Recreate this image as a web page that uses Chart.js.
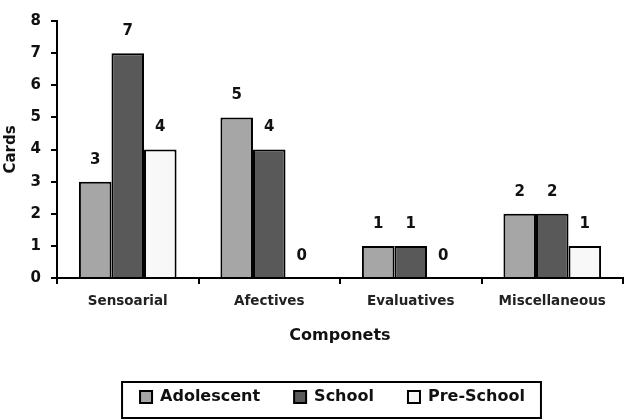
<!DOCTYPE html>
<html>
<head>
<meta charset="utf-8">
<script src="https://cdn.jsdelivr.net/npm/chart.js@4/dist/chart.umd.min.js"></script>
<style>
  html, body { margin: 0; padding: 0; background: #fff; }
  #wrap { width: 637px; height: 420px; position: relative; }
</style>
</head>
<body>
<div id="wrap"><canvas id="chart"></canvas></div>
<script>
// bar chart: cards per component, three age groups
const categories = ['Sensoarial', 'Afectives', 'Evaluatives', 'Miscellaneous'];
const adolescent = [3, 5, 1, 2];
const school = [7, 4, 1, 2];
const preSchool = [4, 0, 0, 1];
const yTicks = [0, 1, 2, 3, 4, 5, 6, 7, 8];

const FONT = '"DejaVu Sans", Verdana, sans-serif';

// numbers above the bars
const valueLabels = {
  id: 'valueLabels',
  afterDatasetsDraw(chart) {
    const ctx = chart.ctx;
    ctx.save();
    ctx.font = `bold 15px ${FONT}`;
    ctx.fillStyle = '#111';
    ctx.textAlign = 'center';
    ctx.textBaseline = 'middle';
    chart.data.datasets.forEach((ds, i) => {
      chart.getDatasetMeta(i).data.forEach((bar, j) => {
        ctx.fillText(String(ds.data[j]), bar.x, bar.y - 22);
      });
    });
    ctx.restore();
  }
};

// legend sits a bit right of centre in the original, and has a frame
const legendFrame = {
  id: 'legendFrame',
  afterLayout(chart) {
    chart.legend.left += 21;
    chart.legend.right += 21;
  },
  afterDraw(chart) {
    const boxes = chart.legend.legendHitBoxes;
    if (!boxes || !boxes.length) return;
    const left = Math.min(...boxes.map(b => b.left)) - 18;
    const right = Math.max(...boxes.map(b => b.left + b.width)) + 16;
    const top = boxes[0].top - 7;
    const bottom = boxes[0].top + 29;
    const ctx = chart.ctx;
    ctx.save();
    ctx.strokeStyle = '#000';
    ctx.lineWidth = 2;
    ctx.strokeRect(left, top, right - left, bottom - top);
    ctx.restore();
  }
};

const ds = (label, data, color) => ({
  label, data,
  backgroundColor: color,
  borderColor: '#000',
  borderWidth: 2,
  borderSkipped: 'bottom',
  categoryPercentage: 0.69,
  barPercentage: 1.0
});

new Chart(document.getElementById('chart'), {
  type: 'bar',
  data: {
    labels: categories,
    datasets: [
      ds('Adolescent', adolescent, '#a6a6a6'),
      ds('School', school, '#595959'),
      ds('Pre-School', preSchool, '#f8f8f8')
    ]
  },
  options: {
    responsive: true,
    maintainAspectRatio: false,
    animation: false,
    layout: { padding: { top: 21, right: 14, left: 0, bottom: 5 } },
    plugins: {
      tooltip: { enabled: false },
      legend: {
        position: 'bottom',
        labels: {
          font: { family: FONT, size: 16, weight: 'bold' },
          color: '#111',
          boxWidth: 12,
          boxHeight: 12,
          padding: 34,
          generateLabels(chart) {
            return chart.data.datasets.map((d, i) => ({
              text: d.label,
              fillStyle: d.backgroundColor,
              strokeStyle: '#000',
              lineWidth: 2,
              datasetIndex: i,
              fontColor: '#111'
            }));
          }
        }
      }
    },
    scales: {
      x: {
        offset: true,
        afterFit(axis) { axis.height = 77; },
        grid: { display: true, drawOnChartArea: false, offset: true, tickLength: 6, color: '#000', lineWidth: 2 },
        border: { color: '#000', width: 2 },
        ticks: { font: { family: FONT, size: 13.5, weight: 'bold' }, color: '#222', padding: 9 },
        title: { display: true, text: 'Componets', font: { family: FONT, size: 16, weight: 'bold' }, color: '#111', padding: { top: 0, bottom: 10 } }
      },
      y: {
        min: 0, max: 8,
        afterBuildTicks(axis) { axis.ticks = yTicks.map(v => ({ value: v })); },
        afterFit(axis) { axis.width = 57; },
        grid: { display: true, drawOnChartArea: false, tickLength: 6, color: '#000', lineWidth: 2 },
        border: { color: '#000', width: 2 },
        ticks: { font: { family: FONT, size: 15, weight: 'bold' }, color: '#111', padding: 10 },
        title: { display: true, text: 'Cards', font: { family: FONT, size: 15, weight: 'bold' }, color: '#111', padding: { top: 2, bottom: 0 } }
      }
    }
  },
  plugins: [valueLabels, legendFrame]
});
</script>
</body>
</html>
